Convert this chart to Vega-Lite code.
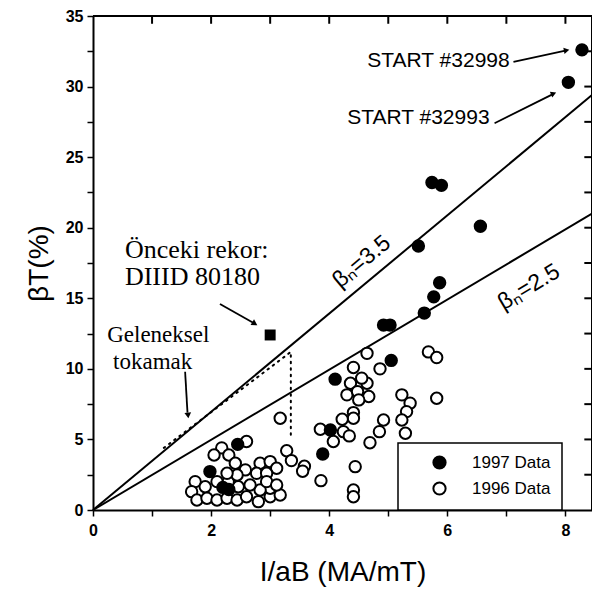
{
  "$schema": "https://vega.github.io/schema/vega-lite/v6.json",
  "width": 499,
  "height": 494,
  "autosize": {"type": "none"},
  "padding": {"left": 93, "top": 16, "right": 0, "bottom": 90},
  "background": "white",
  "config": {
    "view": {"stroke": null},
    "axis": {
      "grid": false,
      "domainColor": "black",
      "domainWidth": 2,
      "tickColor": "black",
      "tickWidth": 1.5,
      "labelColor": "black",
      "labelFont": "Liberation Sans",
      "labelFontSize": 16,
      "labelFontWeight": "bold",
      "titleColor": "black",
      "titleFont": "Liberation Sans",
      "titleFontWeight": "normal"
    },
    "legend": {"strokeWidth": 1.5}
  },
  "datasets": {
    "lines": [
      {"line": "3.5", "x": 0, "y": 0},
      {"line": "3.5", "x": 8.45, "y": 29.4},
      {"line": "2.5", "x": 0, "y": 0},
      {"line": "2.5", "x": 8.45, "y": 21.0}
    ],
    "frame": [
      {"side": "top", "x": 0, "y": 35},
      {"side": "top", "x": 8.45, "y": 35},
      {"side": "right", "x": 8.45, "y": 35},
      {"side": "right", "x": 8.45, "y": 0}
    ],
    "topticks": [
      {"x": 1}, {"x": 2}, {"x": 3}, {"x": 4}, {"x": 5}, {"x": 6}, {"x": 7}, {"x": 8}
    ],
    "rightticks": [
      {"y": 2.5}, {"y": 5}, {"y": 7.5}, {"y": 10}, {"y": 12.5}, {"y": 15}, {"y": 17.5},
      {"y": 20}, {"y": 22.5}, {"y": 25}, {"y": 27.5}, {"y": 30}, {"y": 32.5}
    ],
    "dotted": [
      {"seg": "a", "x": 1.2, "y": 4.4},
      {"seg": "a", "x": 3.35, "y": 11.2},
      {"seg": "a", "x": 3.35, "y": 5.0}
    ],
    "points": [
      {"series": "1996 Data", "x": 4.64, "y": 11.1},
      {"series": "1996 Data", "x": 5.68, "y": 11.2},
      {"series": "1996 Data", "x": 5.82, "y": 10.8},
      {"series": "1996 Data", "x": 4.41, "y": 10.1},
      {"series": "1996 Data", "x": 4.86, "y": 10.0},
      {"series": "1996 Data", "x": 4.36, "y": 8.98},
      {"series": "1996 Data", "x": 4.64, "y": 8.98},
      {"series": "1996 Data", "x": 4.30, "y": 8.16},
      {"series": "1996 Data", "x": 4.48, "y": 8.39},
      {"series": "1996 Data", "x": 4.67, "y": 8.04},
      {"series": "1996 Data", "x": 4.55, "y": 9.34},
      {"series": "1996 Data", "x": 4.50, "y": 7.8},
      {"series": "1996 Data", "x": 5.23, "y": 8.16},
      {"series": "1996 Data", "x": 5.37, "y": 7.57},
      {"series": "1996 Data", "x": 5.31, "y": 6.97},
      {"series": "1996 Data", "x": 5.23, "y": 6.38},
      {"series": "1996 Data", "x": 5.29, "y": 5.44},
      {"series": "1996 Data", "x": 5.82, "y": 7.92},
      {"series": "1996 Data", "x": 4.92, "y": 6.38},
      {"series": "1996 Data", "x": 4.85, "y": 5.55},
      {"series": "1996 Data", "x": 4.69, "y": 4.77},
      {"series": "1996 Data", "x": 4.41, "y": 6.9},
      {"series": "1996 Data", "x": 4.41, "y": 6.5},
      {"series": "1996 Data", "x": 4.22, "y": 6.43},
      {"series": "1996 Data", "x": 3.85, "y": 5.72},
      {"series": "1996 Data", "x": 4.24, "y": 5.55},
      {"series": "1996 Data", "x": 4.34, "y": 5.25},
      {"series": "1996 Data", "x": 4.07, "y": 4.85},
      {"series": "1996 Data", "x": 4.44, "y": 3.07},
      {"series": "1996 Data", "x": 3.86, "y": 2.08},
      {"series": "1996 Data", "x": 4.41, "y": 1.42},
      {"series": "1996 Data", "x": 4.41, "y": 0.94},
      {"series": "1996 Data", "x": 3.17, "y": 6.5},
      {"series": "1996 Data", "x": 3.28, "y": 4.2},
      {"series": "1996 Data", "x": 3.36, "y": 3.5},
      {"series": "1996 Data", "x": 3.58, "y": 3.1},
      {"series": "1996 Data", "x": 3.55, "y": 2.75},
      {"series": "1996 Data", "x": 2.18, "y": 4.4},
      {"series": "1996 Data", "x": 2.60, "y": 4.85},
      {"series": "1996 Data", "x": 2.05, "y": 3.9},
      {"series": "1996 Data", "x": 2.30, "y": 3.9},
      {"series": "1996 Data", "x": 2.41, "y": 3.31},
      {"series": "1996 Data", "x": 2.58, "y": 2.84},
      {"series": "1996 Data", "x": 2.83, "y": 3.31},
      {"series": "1996 Data", "x": 3.0, "y": 3.43},
      {"series": "1996 Data", "x": 3.11, "y": 2.96},
      {"series": "1996 Data", "x": 1.73, "y": 2.01},
      {"series": "1996 Data", "x": 1.90, "y": 1.65},
      {"series": "1996 Data", "x": 1.67, "y": 1.30},
      {"series": "1996 Data", "x": 1.76, "y": 0.71},
      {"series": "1996 Data", "x": 1.93, "y": 0.83},
      {"series": "1996 Data", "x": 2.10, "y": 0.71},
      {"series": "1996 Data", "x": 2.27, "y": 0.83},
      {"series": "1996 Data", "x": 2.44, "y": 0.71},
      {"series": "1996 Data", "x": 2.60, "y": 0.94},
      {"series": "1996 Data", "x": 2.80, "y": 0.59},
      {"series": "1996 Data", "x": 3.0, "y": 0.94},
      {"series": "1996 Data", "x": 3.17, "y": 1.06},
      {"series": "1996 Data", "x": 3.0, "y": 1.54},
      {"series": "1996 Data", "x": 2.83, "y": 1.42},
      {"series": "1996 Data", "x": 2.66, "y": 1.77},
      {"series": "1996 Data", "x": 2.46, "y": 1.65},
      {"series": "1996 Data", "x": 2.29, "y": 2.01},
      {"series": "1996 Data", "x": 2.10, "y": 2.01},
      {"series": "1996 Data", "x": 2.77, "y": 2.60},
      {"series": "1996 Data", "x": 2.94, "y": 2.60},
      {"series": "1996 Data", "x": 2.44, "y": 2.48},
      {"series": "1996 Data", "x": 2.94, "y": 2.01},
      {"series": "1996 Data", "x": 3.11, "y": 1.77},
      {"series": "1996 Data", "x": 2.27, "y": 2.6},
      {"series": "1997 Data", "x": 8.28, "y": 32.6},
      {"series": "1997 Data", "x": 8.05, "y": 30.3},
      {"series": "1997 Data", "x": 5.74, "y": 23.2},
      {"series": "1997 Data", "x": 5.90, "y": 23.0},
      {"series": "1997 Data", "x": 6.56, "y": 20.1},
      {"series": "1997 Data", "x": 5.51, "y": 18.7},
      {"series": "1997 Data", "x": 5.87, "y": 16.1},
      {"series": "1997 Data", "x": 5.77, "y": 15.1},
      {"series": "1997 Data", "x": 5.61, "y": 13.95},
      {"series": "1997 Data", "x": 4.92, "y": 13.1},
      {"series": "1997 Data", "x": 5.03, "y": 13.1},
      {"series": "1997 Data", "x": 5.05, "y": 10.6},
      {"series": "1997 Data", "x": 4.10, "y": 9.27},
      {"series": "1997 Data", "x": 4.02, "y": 5.67},
      {"series": "1997 Data", "x": 3.89, "y": 3.97},
      {"series": "1997 Data", "x": 2.45, "y": 4.65},
      {"series": "1997 Data", "x": 1.98, "y": 2.72},
      {"series": "1997 Data", "x": 2.20, "y": 1.6},
      {"series": "1997 Data", "x": 2.30, "y": 1.45}
    ],
    "arrows": [
      {"arrow": "diiid", "x": 2.15, "y": 14.6},
      {"arrow": "diiid", "x": 2.72, "y": 13.25},
      {"arrow": "tok", "x": 1.56, "y": 9.8},
      {"arrow": "tok", "x": 1.60, "y": 6.9},
      {"arrow": "s98", "x": 7.12, "y": 31.75},
      {"arrow": "s98", "x": 8.0, "y": 32.55},
      {"arrow": "s93", "x": 6.8, "y": 27.4},
      {"arrow": "s93", "x": 7.78, "y": 29.45}
    ]
  },
  "resolve": {"axis": {"x": "independent", "y": "independent"}},
  "layer": [
    {
      "data": {"name": "lines"},
      "mark": {"type": "line", "color": "black", "strokeWidth": 2},
      "encoding": {
        "x": {
          "field": "x", "type": "quantitative",
          "scale": {"domain": [0, 8.45], "nice": false, "zero": false},
          "axis": {
            "orient": "bottom",
            "values": [0, 1, 2, 3, 4, 5, 6, 7, 8],
            "labelExpr": "datum.value % 2 == 0 ? datum.label : ''",
            "tickSize": 6,
            "labelPadding": 6,
            "labelFlush": false,
            "title": "I/aB (MA/mT)",
            "titleFontSize": 28,
            "titlePadding": 20
          }
        },
        "y": {
          "field": "y", "type": "quantitative",
          "scale": {"domain": [0, 35], "nice": false},
          "axis": {
            "orient": "left",
            "values": [0, 2.5, 5, 7.5, 10, 12.5, 15, 17.5, 20, 22.5, 25, 27.5, 30, 32.5, 35],
            "labelExpr": "datum.value % 5 == 0 ? datum.label : ''",
            "tickSize": 6,
            "labelPadding": 4,
            "labelFlush": false,
            "title": "βT(%)",
            "titleFontSize": 28,
            "titlePadding": 12
          }
        },
        "detail": {"field": "line", "type": "nominal"}
      }
    },
    {
      "data": {"name": "frame"},
      "mark": {"type": "line", "color": "black", "strokeWidth": 2},
      "encoding": {
        "x": {"field": "x", "type": "quantitative", "axis": null},
        "y": {"field": "y", "type": "quantitative", "axis": null},
        "detail": {"field": "side", "type": "nominal"}
      }
    },
    {
      "data": {"name": "topticks"},
      "mark": {"type": "rule", "color": "black", "strokeWidth": 2},
      "encoding": {
        "x": {"field": "x", "type": "quantitative", "axis": null},
        "y": {"datum": 35, "type": "quantitative", "axis": null},
        "y2": {"datum": 34.45}
      }
    },
    {
      "data": {"name": "rightticks"},
      "mark": {"type": "rule", "color": "black", "strokeWidth": 2},
      "encoding": {
        "x": {"datum": 8.45, "type": "quantitative", "axis": null},
        "x2": {"datum": 8.32},
        "y": {"field": "y", "type": "quantitative", "axis": null}
      }
    },
    {
      "data": {"name": "dotted"},
      "mark": {"type": "line", "color": "black", "strokeWidth": 2, "strokeDash": [1.5, 5], "strokeCap": "round"},
      "encoding": {
        "x": {"field": "x", "type": "quantitative", "axis": null},
        "y": {"field": "y", "type": "quantitative", "axis": null},
        "detail": {"field": "seg", "type": "nominal"}
      }
    },
    {
      "data": {"name": "arrows"},
      "mark": {"type": "line", "color": "black", "strokeWidth": 1.8},
      "encoding": {
        "x": {"field": "x", "type": "quantitative", "axis": null},
        "y": {"field": "y", "type": "quantitative", "axis": null},
        "detail": {"field": "arrow", "type": "nominal"}
      }
    },
    {
      "data": {"values": [{"x": 2.74, "y": 13.2}]},
      "mark": {"type": "point", "shape": "triangle-up", "filled": true, "color": "black", "opacity": 1, "size": 45, "angle": 121},
      "encoding": {
        "x": {"field": "x", "type": "quantitative", "axis": null},
        "y": {"field": "y", "type": "quantitative", "axis": null}
      }
    },
    {
      "data": {"values": [{"x": 1.61, "y": 6.7}]},
      "mark": {"type": "point", "shape": "triangle-up", "filled": true, "color": "black", "opacity": 1, "size": 45, "angle": 174},
      "encoding": {
        "x": {"field": "x", "type": "quantitative", "axis": null},
        "y": {"field": "y", "type": "quantitative", "axis": null}
      }
    },
    {
      "data": {"values": [{"x": 8.02, "y": 32.57}]},
      "mark": {"type": "point", "shape": "triangle-up", "filled": true, "color": "black", "opacity": 1, "size": 40, "angle": 79},
      "encoding": {
        "x": {"field": "x", "type": "quantitative", "axis": null},
        "y": {"field": "y", "type": "quantitative", "axis": null}
      }
    },
    {
      "data": {"values": [{"x": 7.8, "y": 29.5}]},
      "mark": {"type": "point", "shape": "triangle-up", "filled": true, "color": "black", "opacity": 1, "size": 40, "angle": 68},
      "encoding": {
        "x": {"field": "x", "type": "quantitative", "axis": null},
        "y": {"field": "y", "type": "quantitative", "axis": null}
      }
    },
    {
      "data": {"values": [{"x": 3.0, "y": 12.4}]},
      "mark": {"type": "square", "filled": true, "color": "black", "opacity": 1, "size": 120},
      "encoding": {
        "x": {"field": "x", "type": "quantitative", "axis": null},
        "y": {"field": "y", "type": "quantitative", "axis": null}
      }
    },
    {
      "data": {"name": "points"},
      "mark": {"type": "point", "shape": "circle", "filled": true, "stroke": "black", "strokeWidth": 2, "opacity": 1, "size": 130},
      "encoding": {
        "x": {"field": "x", "type": "quantitative", "axis": null},
        "y": {"field": "y", "type": "quantitative", "axis": null},
        "fill": {
          "field": "series", "type": "nominal",
          "scale": {"domain": ["1997 Data", "1996 Data"], "range": ["black", "white"]},
          "legend": {
            "orient": "none",
            "legendX": 305,
            "legendY": 427,
            "title": null,
            "padding": 11,
            "strokeColor": "black",
            "fillColor": "white",
            "symbolType": "circle",
            "symbolSize": 150,
            "symbolStrokeColor": "black",
            "symbolStrokeWidth": 2,
            "symbolOpacity": 1,
            "symbolOffset": 22,
            "labelOffset": 24,
            "labelFont": "Liberation Sans",
            "labelFontSize": 17,
            "labelColor": "black",
            "rowPadding": 5
          }
        }
      }
    },
    {
      "data": {"values": [{"x": 0.54, "y": 18.4, "t": "Önceki rekor:"}, {"x": 0.54, "y": 16.5, "t": "DIIID 80180"}]},
      "mark": {"type": "text", "font": "Liberation Serif", "fontSize": 26, "align": "left", "baseline": "middle", "color": "black"},
      "encoding": {
        "x": {"field": "x", "type": "quantitative", "axis": null},
        "y": {"field": "y", "type": "quantitative", "axis": null},
        "text": {"field": "t"}
      }
    },
    {
      "data": {"values": [{"x": 0.24, "y": 12.4, "t": "Geleneksel"}, {"x": 0.34, "y": 10.5, "t": "tokamak"}]},
      "mark": {"type": "text", "font": "Liberation Serif", "fontSize": 23, "align": "left", "baseline": "middle", "color": "black"},
      "encoding": {
        "x": {"field": "x", "type": "quantitative", "axis": null},
        "y": {"field": "y", "type": "quantitative", "axis": null},
        "text": {"field": "t"}
      }
    },
    {
      "data": {"values": [{"x": 5.85, "y": 31.8, "t": "START #32998"}, {"x": 5.51, "y": 27.8, "t": "START #32993"}]},
      "mark": {"type": "text", "font": "Liberation Sans", "fontSize": 21, "align": "center", "baseline": "middle", "color": "black"},
      "encoding": {
        "x": {"field": "x", "type": "quantitative", "axis": null},
        "y": {"field": "y", "type": "quantitative", "axis": null},
        "text": {"field": "t"}
      }
    },
    {
      "data": {"values": [{"x": 4.55, "y": 17.6, "t": "βₙ=3.5"}]},
      "mark": {"type": "text", "font": "Liberation Sans", "fontSize": 23, "align": "center", "baseline": "middle", "angle": 320, "color": "black"},
      "encoding": {
        "x": {"field": "x", "type": "quantitative", "axis": null},
        "y": {"field": "y", "type": "quantitative", "axis": null},
        "text": {"field": "t"}
      }
    },
    {
      "data": {"values": [{"x": 7.38, "y": 15.8, "t": "βₙ=2.5"}]},
      "mark": {"type": "text", "font": "Liberation Sans", "fontSize": 23, "align": "center", "baseline": "middle", "angle": 329, "color": "black"},
      "encoding": {
        "x": {"field": "x", "type": "quantitative", "axis": null},
        "y": {"field": "y", "type": "quantitative", "axis": null},
        "text": {"field": "t"}
      }
    }
  ]
}
